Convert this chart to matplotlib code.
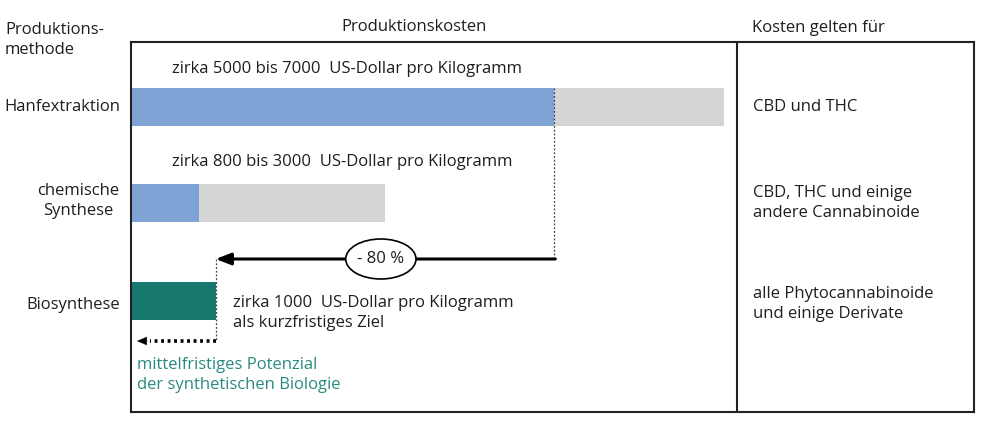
import matplotlib
matplotlib.use("Agg")
import matplotlib.pyplot as plt
from matplotlib.patches import Ellipse

plt.rcParams['font.family'] = ['Open Sans', 'DejaVu Sans']

# Daten (US-Dollar pro Kilogramm)
methods = ["Hanfextraktion", "chemische\nSynthese", "Biosynthese"]
cost_low = [5000, 800, 1000]
cost_high = [7000, 3000, 1000]
cost_labels = ["zirka 5000 bis 7000  US-Dollar pro Kilogramm",
               "zirka 800 bis 3000  US-Dollar pro Kilogramm",
               "zirka 1000  US-Dollar pro Kilogramm\nals kurzfristiges Ziel"]
applies_to = ["CBD und THC",
              "CBD, THC und einige\nandere Cannabinoide",
              "alle Phytocannabinoide\nund einige Derivate"]
reduction = "- 80 %"

blue = "#80a3d6"
gray = "#d4d5d5"
teal = "#17786e"
teal_text = "#2a8a80"
ink = "#1e1e1e"

W, H = 1000, 425
fig = plt.figure(figsize=(10, 4.25), dpi=100)


def px(x, y):
    return x / W, 1 - y / H


# Kasten
ax = fig.add_axes([131 / W, 1 - 412 / H, (974 - 131) / W, (412 - 42) / H])
ax.set_xlim(0, 9953)
ax.set_ylim(412, 42)
ax.set_xticks([])
ax.set_yticks([])
for s in ax.spines.values():
    s.set_linewidth(1.5)
    s.set_color("#222222")
ax.axvline(7155, color="#222222", lw=1.5)

ypos = [107, 203, 301]
h = 38
# graue Spanne + blauer Anteil
ax.barh(ypos[:2], [cost_high[i] - cost_low[i] for i in range(2)], left=cost_low[:2],
        height=h, color=gray)
ax.barh(ypos[:2], cost_low[:2], height=h, color=blue)
ax.barh(ypos[2], cost_low[2], height=h, color=teal)

# Beschriftungen über den Balken
ax.text(480, 69, cost_labels[0], fontsize=12, va="center", color=ink)
ax.text(480, 162, cost_labels[1], fontsize=12, va="center", color=ink)
ax.text(1210, 313, cost_labels[2], fontsize=12, va="center", linespacing=1.3, color=ink)

# Pfeil -80 %
arrow_y = 259
ax.plot([cost_low[0], cost_low[0]], [ypos[0] - h / 2, arrow_y], ls=(0, (1.5, 1.5)),
        color="#444444", lw=0.9)
ax.annotate("", xy=(cost_low[2], arrow_y), xytext=(cost_low[0] + 10, arrow_y),
            arrowprops=dict(arrowstyle="-|>,head_length=0.9,head_width=0.35",
                            color="black", lw=2.2, shrinkA=0, shrinkB=0))
ax.add_patch(Ellipse((2950, arrow_y), 830, 40, facecolor="white", edgecolor="black",
                     lw=1.2, zorder=3))
ax.text(2950, arrow_y, reduction, fontsize=12, ha="center", va="center", zorder=4,
        color=ink)

# gestrichelter Pfeil Biosynthese
ax.plot([cost_low[2], cost_low[2]], [arrow_y, 341], ls=(0, (1.5, 1.5)),
        color="#444444", lw=0.9)
ax.plot([cost_low[2], 220], [341, 341], ls=(0, (0.8, 1.0)), color="black", lw=2.6)
ax.annotate("", xy=(70, 341), xytext=(230, 341),
            arrowprops=dict(arrowstyle="-|>,head_length=0.7,head_width=0.3",
                            color="black", lw=0.1, shrinkA=0, shrinkB=0))
ax.text(70, 375, "mittelfristiges Potenzial\nder synthetischen Biologie", fontsize=12,
        color=teal_text, va="center", linespacing=1.3)

# Kostenbezug rechts
ax.text(7340, 107, applies_to[0], fontsize=12, va="center", color=ink)
ax.text(7340, 203, applies_to[1], fontsize=12, va="center", linespacing=1.3, color=ink)
ax.text(7340, 304, applies_to[2], fontsize=12, va="center", linespacing=1.3, color=ink)

# Kopfzeile
fig.text(*px(5, 40), "Produktions-\nmethode", fontsize=12, va="center", linespacing=1.3,
         color=ink)
fig.text(*px(414, 27), "Produktionskosten", fontsize=12, ha="center", va="center",
         color=ink)
fig.text(*px(752, 28), "Kosten gelten für", fontsize=12, va="center", color=ink)

# Methoden links
fig.text(*px(120, 107), methods[0], fontsize=12, ha="right", va="center", color=ink)
fig.text(*px(78, 201), methods[1], fontsize=12, ha="center", va="center",
         linespacing=1.3, color=ink)
fig.text(*px(120, 305), methods[2], fontsize=12, ha="right", va="center", color=ink)

fig.savefig("out.png", dpi=100, facecolor="white")
